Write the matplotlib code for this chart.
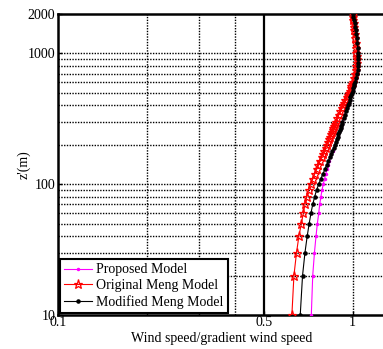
import matplotlib
matplotlib.use("Agg")
import matplotlib.pyplot as plt
from matplotlib.ticker import FixedLocator, FixedFormatter, NullLocator

plt.rcParams["font.family"] = ["Liberation Serif", "DejaVu Serif"]
plt.rcParams["font.size"] = 10

# heights (m) at which each profile is evaluated
heights = (
    list(range(10, 301, 10))
    + list(range(320, 601, 20))
    + list(range(650, 1001, 50))
    + list(range(1100, 2001, 100))
)

# wind speed / gradient wind speed
proposed = [
    0.724, 0.732, 0.742, 0.751, 0.759, 0.767, 0.773, 0.780, 0.787, 0.795,
    0.803, 0.811, 0.818, 0.825, 0.832, 0.839, 0.847, 0.855, 0.863, 0.871,
    0.877, 0.883, 0.889, 0.894, 0.899, 0.905, 0.910, 0.914, 0.919, 0.923,
    0.932, 0.940, 0.948, 0.956, 0.964, 0.971, 0.977, 0.983, 0.989, 0.995,
    0.999, 1.004, 1.009, 1.013, 1.018,
    1.027, 1.034, 1.039, 1.042, 1.044, 1.045, 1.045, 1.043,
    1.041, 1.037, 1.034, 1.030, 1.026, 1.021, 1.017, 1.012, 1.006, 1.000,
]
original_meng = [
    0.622, 0.632, 0.645, 0.657, 0.670, 0.680, 0.689, 0.699, 0.709, 0.720,
    0.733, 0.744, 0.755, 0.765, 0.775, 0.784, 0.792, 0.800, 0.809, 0.816,
    0.823, 0.830, 0.837, 0.843, 0.849, 0.855, 0.861, 0.867, 0.872, 0.878,
    0.888, 0.898, 0.907, 0.917, 0.927, 0.936, 0.945, 0.954, 0.962, 0.972,
    0.978, 0.984, 0.990, 0.996, 1.002,
    1.013, 1.022, 1.027, 1.030, 1.032, 1.033, 1.032, 1.030,
    1.027, 1.024, 1.021, 1.017, 1.014, 1.011, 1.009, 1.006, 1.002, 1.000,
]
modified_meng = [
    0.664, 0.676, 0.689, 0.701, 0.712, 0.722, 0.732, 0.743, 0.754, 0.767,
    0.780, 0.793, 0.805, 0.816, 0.826, 0.836, 0.845, 0.854, 0.863, 0.871,
    0.877, 0.883, 0.889, 0.894, 0.899, 0.905, 0.910, 0.914, 0.919, 0.923,
    0.932, 0.940, 0.948, 0.956, 0.964, 0.971, 0.977, 0.983, 0.989, 0.995,
    0.999, 1.004, 1.009, 1.013, 1.018,
    1.027, 1.034, 1.039, 1.042, 1.044, 1.045, 1.045, 1.043,
    1.041, 1.037, 1.034, 1.030, 1.026, 1.021, 1.017, 1.012, 1.006, 1.000,
]

x_ticks = [0.1, 0.5, 1]
x_tick_labels = ["0.1", "0.5", "1"]
y_ticks = [10, 100, 1000, 2000]
y_tick_labels = ["10", "100", "1000", "2000"]

x_grid = [0.2, 0.3, 0.4, 1.0]
x_solid = [0.5]
y_grid = list(range(20, 100, 10)) + list(range(100, 1000, 100)) + [1000]

fig = plt.figure(figsize=(3.83, 3.49), dpi=100)
ax = fig.add_axes([0.1514, 0.0974, 0.857, 0.8625])
ax.set_xscale("log")
ax.set_yscale("log")
ax.set_xlim(0.1, 1.3)
ax.set_ylim(10, 2000)

dot = dict(color="black", linestyle=(0, (1, 1)), linewidth=1.0, zorder=1)
for y in y_grid:
    ax.axhline(y, **dot)
for x in x_grid:
    ax.axvline(x, **dot)
for x in x_solid:
    ax.axvline(x, color="black", linewidth=1.6, zorder=1)

ax.plot(proposed, heights, color="magenta", linewidth=0.8,
        marker=".", markersize=3, label="Proposed Model", zorder=3)
ax.plot(original_meng, heights, color="red", linewidth=0.8,
        marker="*", markersize=6.5, markerfacecolor="none",
        markeredgewidth=0.9, label="Original Meng Model", zorder=4)
ax.plot(modified_meng, heights, color="black", linewidth=0.8,
        marker=".", markersize=4.5, label="Modified Meng Model", zorder=5)

ax.xaxis.set_major_locator(FixedLocator(x_ticks))
ax.xaxis.set_major_formatter(FixedFormatter(x_tick_labels))
ax.xaxis.set_minor_locator(NullLocator())
ax.yaxis.set_major_locator(FixedLocator(y_ticks))
ax.yaxis.set_major_formatter(FixedFormatter(y_tick_labels))
ax.yaxis.set_minor_locator(NullLocator())
ax.tick_params(direction="in", length=3, width=1, pad=2, labelsize=10)
ax.tick_params(axis="x", pad=1)

for spine in ax.spines.values():
    spine.set_linewidth(1.8)

ax.set_xlabel("Wind speed/gradient wind speed", labelpad=2)
ax.set_ylabel("z'(m)", labelpad=-2)

leg = ax.legend(loc="lower left", fancybox=False, framealpha=1,
                edgecolor="black", borderaxespad=0.15, handlelength=2.0,
                labelspacing=0.2, handletextpad=0.3, borderpad=0.3,
                fontsize=10)
leg.get_frame().set_linewidth(1.5)

fig.savefig("out.png", dpi=100)
